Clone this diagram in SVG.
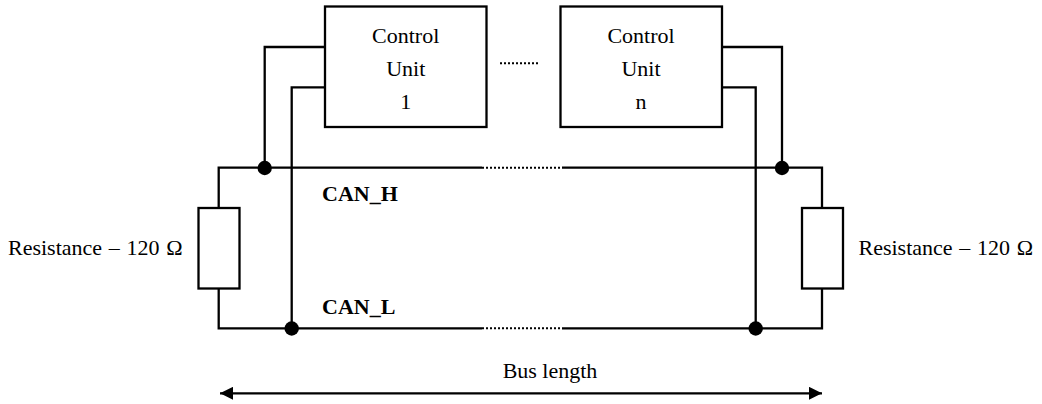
<svg xmlns="http://www.w3.org/2000/svg" width="1042" height="404" viewBox="0 0 1042 404">
<style>
.w{fill:none;stroke:#000;stroke-width:2.300}
.box{fill:#fff;stroke:#000;stroke-width:2.300}
.dot{fill:none;stroke:#000;stroke-width:2;stroke-dasharray:2 2}
.j{fill:#000}
text{font-family:"Liberation Serif","Times New Roman",serif;font-size:22px;fill:#000}
.m{text-anchor:middle}
.b{font-weight:bold}
.r{word-spacing:1.200px}
</style>
<defs>
<marker id="a" viewBox="0 0 13 13" refX="13" refY="6.500" markerWidth="13" markerHeight="13" markerUnits="userSpaceOnUse" orient="auto-start-reverse"><path d="M0 0L13 6.500L0 13Z" fill="#000"/></marker>
</defs>
<g id="connectors">
<path class="w" d="M325 47H264.700V168"/>
<path class="w" d="M325 87.300H291.700V328"/>
<path class="w" d="M722 47H782V168"/>
<path class="w" d="M722 87.300H755.700V328"/>
<path class="w" d="M482 167.700H218.700V208"/>
<path class="w" d="M218.700 289V328.300H482"/>
<path class="w" d="M562 167.700H822V208"/>
<path class="w" d="M822 289V328.300H562"/>
<path class="dot" d="M482 167.700H562"/>
<path class="dot" d="M482 328.300H562"/>
<path class="dot" d="M500 63.300H539"/>
<path class="w" d="M220 393.300H822" marker-start="url(#a)" marker-end="url(#a)"/>
<circle class="j" cx="264.700" cy="168" r="7.200"/>
<circle class="j" cx="782" cy="168" r="7.200"/>
<circle class="j" cx="291.700" cy="328.500" r="7.200"/>
<circle class="j" cx="755.700" cy="328.500" r="7.200"/>
</g>
<g id="unit1">
<rect class="box" x="325" y="6.500" width="161.500" height="120.500"/>
<text class="m" x="405.700" y="43">Control</text>
<text class="m" x="405.700" y="76">Unit</text>
<text class="m" x="405.700" y="109">1</text>
</g>
<g id="unitn">
<rect class="box" x="560.500" y="6.500" width="161.500" height="120.500"/>
<text class="m" x="641" y="43">Control</text>
<text class="m" x="641" y="76">Unit</text>
<text class="m" x="641" y="109">n</text>
</g>
<g id="resistor-left">
<rect class="box" x="198.500" y="208" width="41" height="80.500"/>
<text class="r" x="8" y="255">Resistance – 120 Ω</text>
</g>
<g id="resistor-right">
<rect class="box" x="802" y="208" width="41" height="80.500"/>
<text class="r" x="858.500" y="255">Resistance – 120 Ω</text>
</g>
<g id="labels">
<text class="b" x="322" y="201">CAN_H</text>
<text class="b" x="322" y="314">CAN_L</text>
<text class="m" x="550" y="378">Bus length</text>
</g>
</svg>
